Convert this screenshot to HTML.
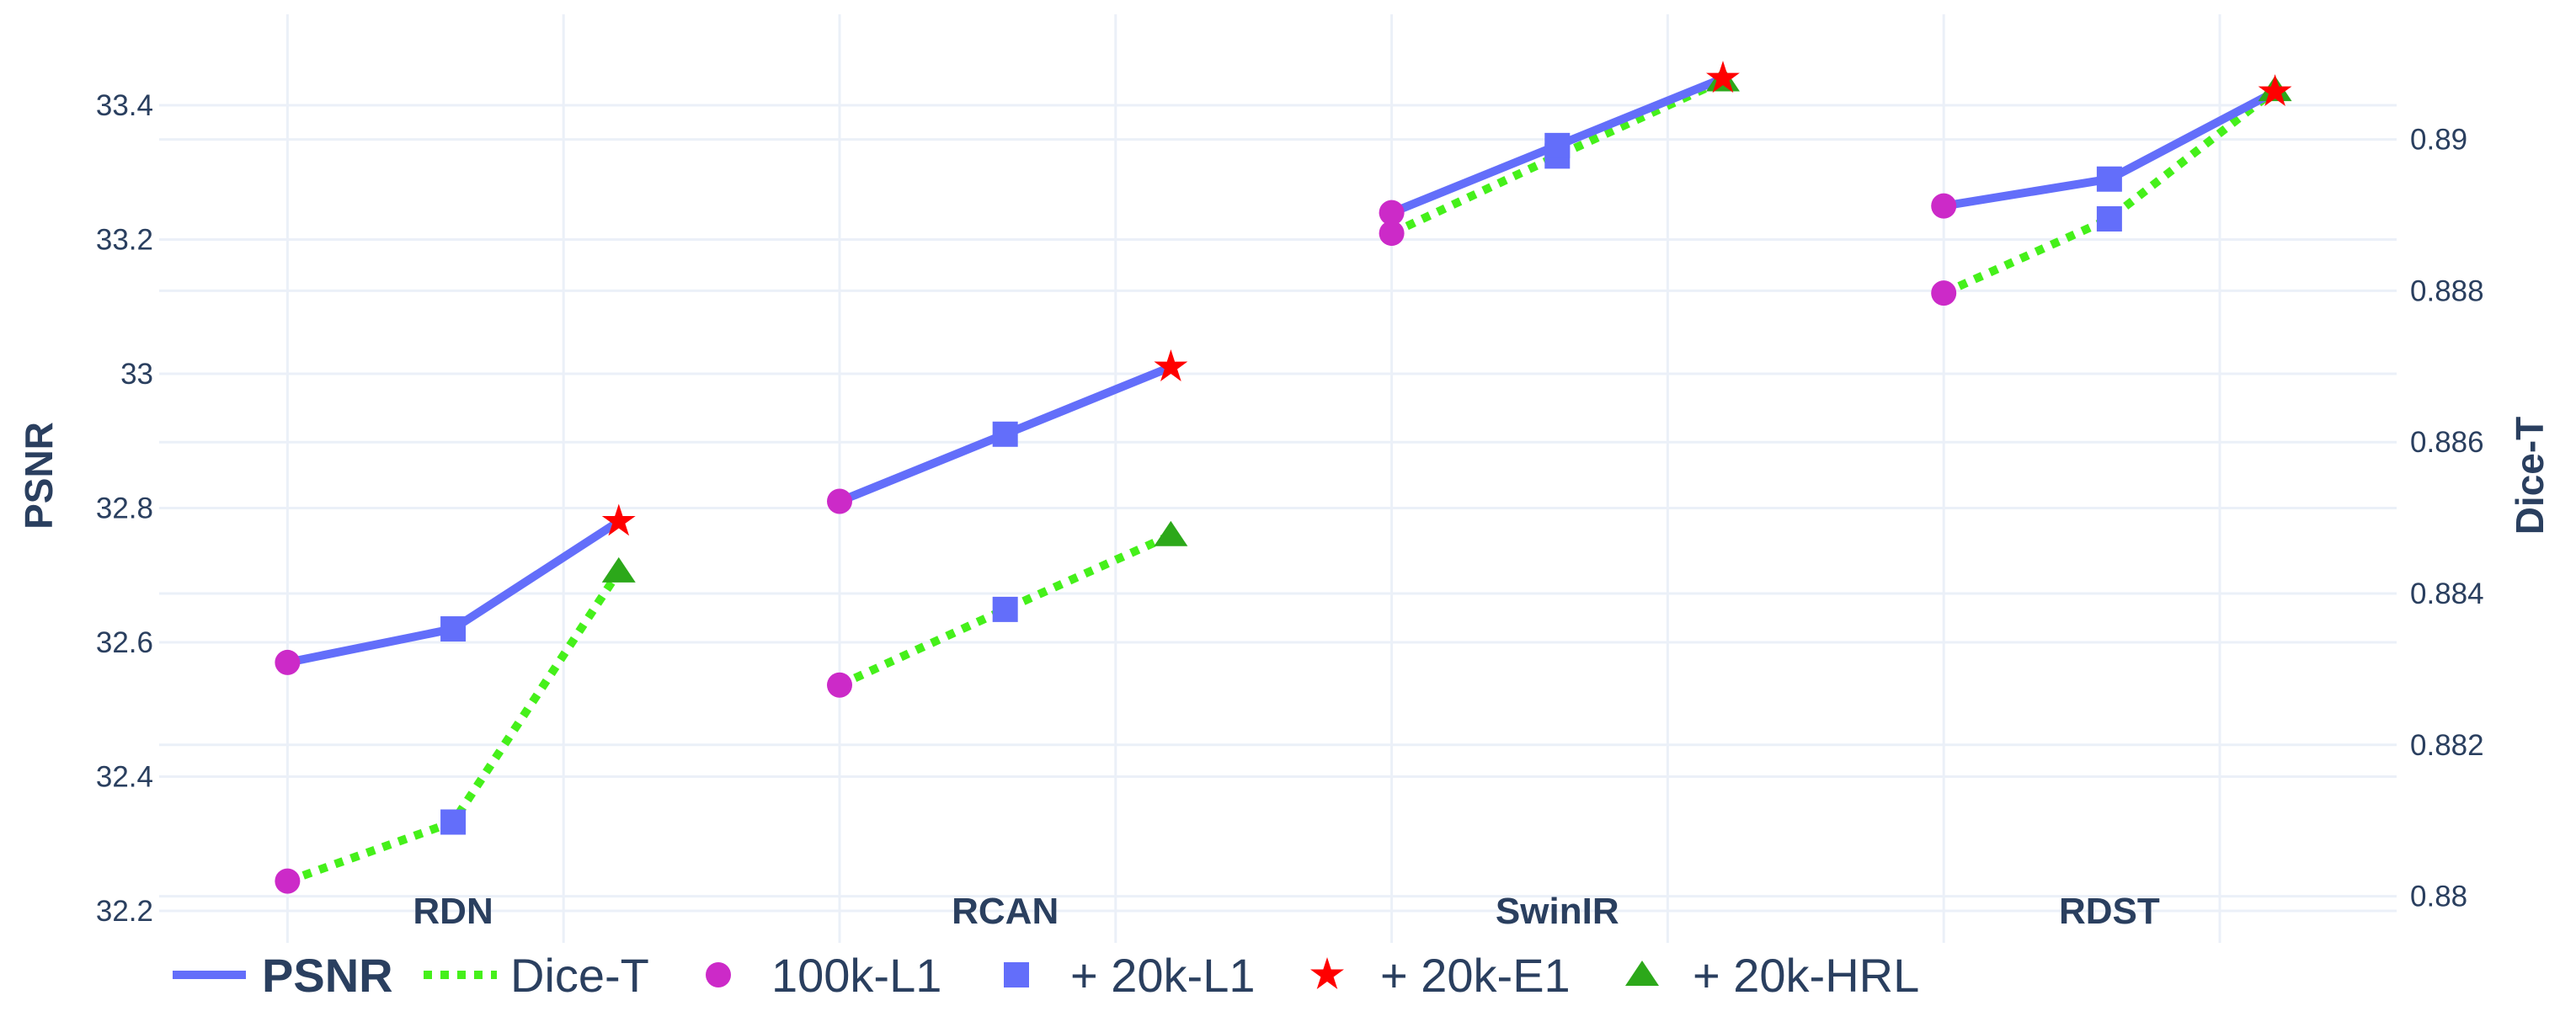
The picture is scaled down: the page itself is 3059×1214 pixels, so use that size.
<!DOCTYPE html>
<html><head><meta charset="utf-8">
<style>
html,body{margin:0;padding:0;background:#fff;}
svg{display:block;font-family:"Liberation Sans","DejaVu Sans",sans-serif;}
</style></head>
<body>
<svg id="chart" width="3059" height="1214" viewBox="0 0 3059 1214" xmlns="http://www.w3.org/2000/svg">
<g id="grid"></g>
<g id="axes"></g>
<g id="series"></g>
<g id="legend"></g>
</svg>
<script>
const categories = ["RDN","RCAN","SwinIR","RDST"];
const stages = ["100k-L1","+ 20k-L1","+ 20k-E1","+ 20k-HRL"];
const psnrValues = [
  [32.57,32.62,32.78],
  [32.81,32.91,33.01],
  [33.24,33.34,33.44],
  [33.25,33.29,33.42]
];
const diceValues = [
  [0.8802,0.88098,0.88429],
  [0.88279,0.88379,0.88477],
  [0.88876,0.88978,0.89078],
  [0.88797,0.88895,0.89065]
];
const psnrTicks = [32.2,32.4,32.6,32.8,33,33.2,33.4];
const psnrTickLabels = ["32.2","32.4","32.6","32.8","33","33.2","33.4"];
const diceTicks = [0.88,0.882,0.884,0.886,0.888,0.89];
const diceTickLabels = ["0.88","0.882","0.884","0.886","0.888","0.89"];

const NS="http://www.w3.org/2000/svg";
const X0=341.4, XU=655.6, STEP=0.3;
const xPos = (g,i)=> X0 + (g + i*STEP)*XU;
const yL = v => 1082 - (v-32.2)/0.2*159.5;
const yR = v => 1064.6 - (v-0.88)/0.002*179.8;
const PL=189, PR=2846, PT=17, PB=1120;
const TXT="#2a3f5f", GRID="#ebf0f8";

function mk(tag, attrs, parent, text){
  const e=document.createElementNS(NS,tag);
  for(const k in attrs) e.setAttribute(k,attrs[k]);
  if(text!==undefined) e.textContent=text;
  parent.appendChild(e); return e;
}
const grid=document.getElementById('grid');
const axes=document.getElementById('axes');
const series=document.getElementById('series');
const legend=document.getElementById('legend');

for(let u=0;u<=3.5;u+=0.5){
  const x=X0+u*XU;
  const l=mk('line',{x1:x,x2:x,y1:PT,y2:PB,stroke:GRID,'stroke-width':3},grid);
  
  
}
psnrTicks.forEach((v,k)=>{
  const y=yL(v);
  const l=mk('line',{x1:PL,x2:PR,y1:y,y2:y,stroke:GRID,'stroke-width':3},grid);
  
  
  const t=mk('text',{x:182,y:y+12,'text-anchor':'end','font-size':35,fill:TXT},axes,psnrTickLabels[k]);
  
  
});
diceTicks.forEach((v,k)=>{
  const y=yR(v);
  const l=mk('line',{x1:PL,x2:PR,y1:y,y2:y,stroke:GRID,'stroke-width':3},grid);
  
  
  const t=mk('text',{x:2862,y:y+12,'text-anchor':'start','font-size':35,fill:TXT},axes,diceTickLabels[k]);
  
  
});
categories.forEach((c,g)=>{
  const t=mk('text',{x:xPos(g,1),y:1097,'text-anchor':'middle','font-size':44,'font-weight':'bold',fill:TXT},axes,c);
  
  
});
let t1=mk('text',{transform:'translate(62,565) rotate(-90)','text-anchor':'middle','font-size':46,'font-weight':'bold',fill:TXT},axes,'PSNR');


let t2=mk('text',{transform:'translate(3020,565) rotate(-90)','text-anchor':'middle','font-size':46,'font-weight':'bold',fill:TXT},axes,'Dice-T');



const COLORS={circle:"#cc2ac8",square:"#636efa",star:"#ff0000",tri:"#2ca81a"};
function marker(type,x,y,parent){
  let e;
  if(type==='circle') e=mk('circle',{cx:x,cy:y,r:15,fill:COLORS.circle},parent);
  else if(type==='square') e=mk('rect',{x:x-15,y:y-15,width:30,height:30,fill:COLORS.square},parent);
  else if(type==='star'){
    let pts=[];for(let k=0;k<10;k++){const a=-Math.PI/2+k*Math.PI/5;const r=k%2?8:21;pts.push((x+r*Math.cos(a)).toFixed(1)+','+(y+r*Math.sin(a)).toFixed(1));}
    e=mk('polygon',{points:pts.join(' '),fill:COLORS.star},parent);
  } else e=mk('polygon',{points:`${x},${y-17} ${x+20},${y+13} ${x-20},${y+13}`,fill:COLORS.tri},parent);
  return e;
}
const mtypes=['circle','square'];
categories.forEach((c,g)=>{
  const pp=psnrValues[g].map((v,i)=>[xPos(g,i),yL(v)]);
  const dp=diceValues[g].map((v,i)=>[xPos(g,i),yR(v)]);
  const dl=mk('polyline',{points:dp.map(p=>p.join(',')).join(' '),fill:'none',stroke:'#45f01a','stroke-width':10,'stroke-dasharray':'10 10'},series);
  
  
  const pl=mk('polyline',{points:pp.map(p=>p.join(',')).join(' '),fill:'none',stroke:'#636efa','stroke-width':10},series);
  
  
  dp.forEach((p,i)=>{
    const m=marker(i<2?mtypes[i]:'tri',p[0],p[1],series);
    
    
  });
  pp.forEach((p,i)=>{
    const m=marker(i<2?mtypes[i]:'star',p[0],p[1],series);
    
    
  });
});

const LY=1158;
let e;
e=mk('line',{x1:205,x2:292,y1:LY,y2:LY,stroke:'#636efa','stroke-width':10},legend);

e=mk('text',{x:311,y:LY+20,'font-size':56,'font-weight':'bold',fill:TXT},legend,'PSNR');

e=mk('line',{x1:503,x2:590,y1:LY,y2:LY,stroke:'#45f01a','stroke-width':10,'stroke-dasharray':'10 10'},legend);

e=mk('text',{x:606,y:LY+20,'font-size':56,fill:TXT},legend,'Dice-T');

const leg=[['circle',853,916],['square',1207,1271],['star',1576,1639],['tri',1950,2010]];
leg.forEach((l,k)=>{
  const m=marker(l[0],l[1],LY,legend);
  
  
  const t=mk('text',{x:l[2],y:LY+20,'font-size':56,fill:TXT},legend,stages[k]);
  
  
});
</script>
</body></html>
